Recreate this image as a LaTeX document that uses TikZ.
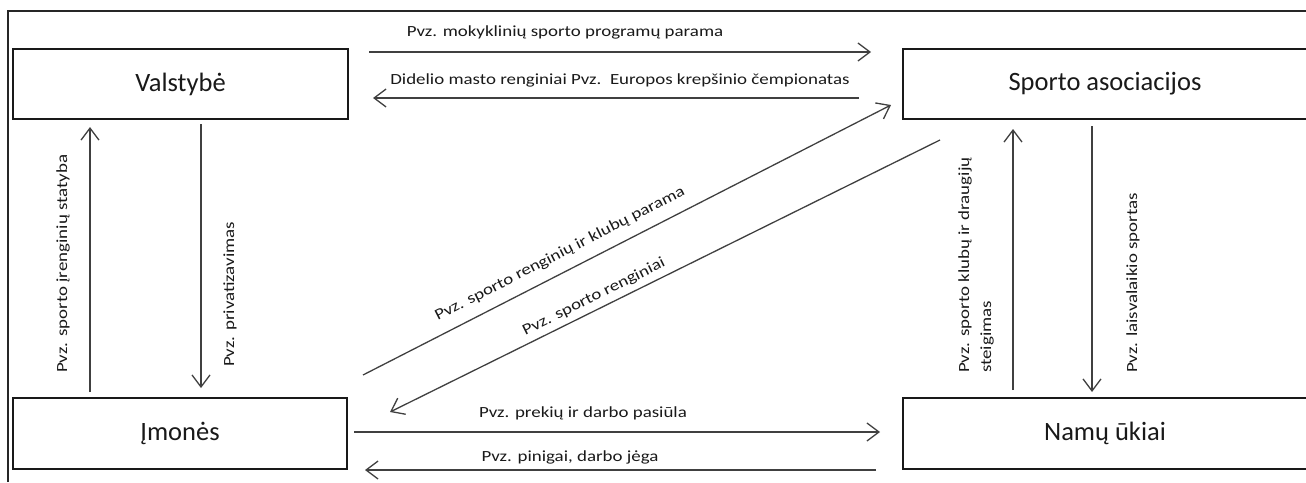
\documentclass[tikz,border=0pt]{standalone}
\usepackage{fontspec}
\setmainfont{Carlito}
\newfontfamily\lblfont[FakeStretch=1.22]{Carlito}
\usetikzlibrary{arrows.meta}
\begin{document}
\begin{tikzpicture}[x=1pt,y=-1pt,
  box/.style={draw=black!90, line width=1.6pt, minimum height=70pt, inner sep=0pt,
    font=\fontsize{26.5}{30}\selectfont, text=black!90},
  flow/.style={draw=black!75, line width=1.3pt,
    -{Straight Barb[length=12pt,width=18pt,line width=1.3pt]}},
  lbl/.style={font=\lblfont\fontsize{15.5}{22}\selectfont, inner sep=0pt, text=black!90}]
\useasboundingbox (0,0) rectangle (1306,482);
\clip (0,0) rectangle (1306,482);
\draw[line width=1.2pt, black!85] (8,482) -- (8,11) -- (1306,11);

% boxes
\node[box, minimum width=335pt] (val) at (180.5,84) {Valstybė};
\node[box, minimum width=404pt] (spa) at (1105,84) {Sporto asociacijos};
\node[box, minimum width=334pt, minimum height=71pt] (imo) at (180,433.5) {Įmonės};
\node[box, minimum width=404pt, minimum height=71pt] (nam) at (1105,433.5) {Namų ūkiai};

% connector end points
\coordinate (a1s) at (369,52);   \coordinate (a1e) at (871,52);
\coordinate (a2s) at (859,98);   \coordinate (a2e) at (373,98);
\coordinate (a3s) at (363,375);  \coordinate (a3e) at (891,105);
\coordinate (a4s) at (940,140);  \coordinate (a4e) at (390,412);
\coordinate (a5s) at (90,392);   \coordinate (a5e) at (90,127);
\coordinate (a6s) at (201,124);  \coordinate (a6e) at (201,388);
\coordinate (a7s) at (1013,390); \coordinate (a7e) at (1013,129);
\coordinate (a8s) at (1092,126); \coordinate (a8e) at (1092,392);
\coordinate (a9s) at (354,432);  \coordinate (a9e) at (880,432);
\coordinate (a10s) at (876,470); \coordinate (a10e) at (365,470);

\draw[flow] (a1s) -- (a1e);
\draw[flow] (a2s) -- (a2e);
\draw[flow] (a3s) -- (a3e);
\draw[flow] (a4s) -- (a4e);
\draw[flow] (a5s) -- (a5e);
\draw[flow] (a6s) -- (a6e);
\draw[flow] (a7s) -- (a7e);
\draw[flow] (a8s) -- (a8e);
\draw[flow] (a9s) -- (a9e);
\draw[flow] (a10s) -- (a10e);

% labels
\node[lbl] (l1) at (565,32) {Pvz. mokyklinių sporto programų parama};
\node[lbl] (l2) at (620,80) {Didelio masto renginiai Pvz.\ \ Europos krepšinio čempionatas};
\node[lbl, rotate=27] (l3) at (560,254) {Pvz. sporto renginių ir klubų parama};
\node[lbl, rotate=26.3] (l4) at (594,297) {Pvz. sporto renginiai};
\node[lbl, rotate=90, anchor=west] (l5) at (63,373) {Pvz. sporto įrenginių statyba};
\node[lbl, rotate=90, anchor=west] (l6) at (230,367) {Pvz. privatizavimas};
\node[lbl, rotate=90, anchor=west, align=left] (l7) at (976,373) {Pvz. sporto klubų ir draugijų\\steigimas};
\node[lbl, rotate=90, anchor=west] (l8) at (1133,373) {Pvz. laisvalaikio sportas};
\node[lbl] (l9) at (583,413) {Pvz. prekių ir darbo pasiūla};
\node[lbl] (l10) at (570,457) {Pvz. pinigai, darbo jėga};
\end{tikzpicture}
\end{document}
